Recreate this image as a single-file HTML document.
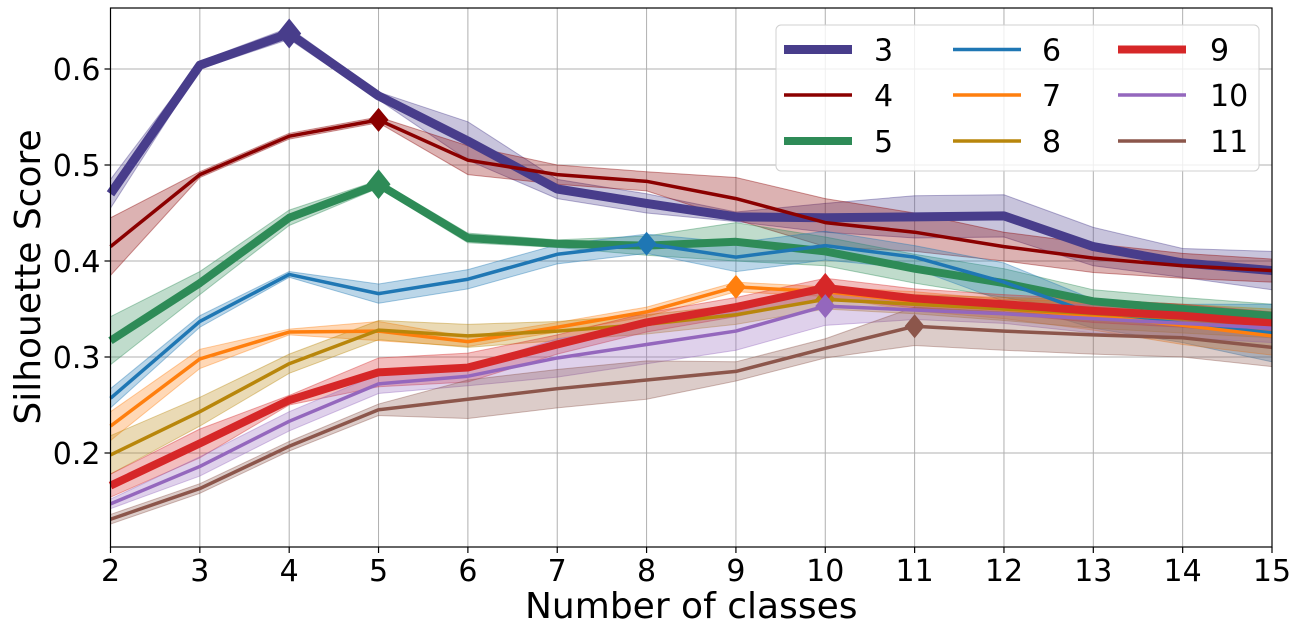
<!DOCTYPE html>
<html><head><meta charset="utf-8"><style>
html,body{margin:0;padding:0;background:#fff;}
svg{display:block;font-family:"DejaVu Sans","Liberation Sans",sans-serif;}
</style></head><body>
<svg id="chart" width="1300" height="627" viewBox="0 0 1300 627" xmlns="http://www.w3.org/2000/svg">
<g id="grid"></g>
<g id="bands"></g>
<g id="lines"></g>
<g id="axes"></g>
<g id="legend"></g>
</svg>
<script>
const xCats = [2,3,4,5,6,7,8,9,10,11,12,13,14,15];
const yTicks = [0.2,0.3,0.4,0.5,0.6];
const seriesNames = ["3","4","5","6","7","8","9","10","11"];
const s3 = [0.47,0.604,0.637,0.572,0.525,0.475,0.46,0.446,0.445,0.446,0.447,0.415,0.398,0.39];
const s4 = [0.415,0.49,0.53,0.547,0.505,0.49,0.483,0.465,0.44,0.43,0.415,0.403,0.395,0.39];
const s5 = [0.317,0.377,0.445,0.48,0.424,0.418,0.416,0.42,0.41,0.392,0.377,0.358,0.35,0.343];
const s6 = [0.257,0.337,0.386,0.366,0.381,0.407,0.418,0.404,0.416,0.404,0.378,0.345,0.335,0.325];
const s7 = [0.228,0.298,0.326,0.327,0.316,0.331,0.347,0.373,0.368,0.358,0.35,0.343,0.333,0.322];
const s8 = [0.198,0.243,0.293,0.328,0.322,0.327,0.334,0.344,0.36,0.355,0.35,0.345,0.34,0.335];
const s9 = [0.166,0.21,0.255,0.284,0.289,0.313,0.336,0.352,0.372,0.361,0.355,0.348,0.343,0.335];
const s10 = [0.147,0.186,0.233,0.272,0.28,0.299,0.313,0.327,0.353,0.349,0.345,0.34,0.335,0.33];
const s11 = [0.131,0.163,0.207,0.245,0.256,0.267,0.276,0.285,0.309,0.332,0.327,0.323,0.32,0.31];
const e3 = [0.015,0.004,0.006,0.004,0.02,0.01,0.01,0.005,0.015,0.022,0.022,0.02,0.015,0.02];
const e4 = [0.03,0.003,0.003,0.003,0.015,0.01,0.01,0.022,0.025,0.02,0.015,0.015,0.013,0.012];
const e5 = [0.025,0.012,0.008,0.004,0.005,0.004,0.01,0.02,0.015,0.015,0.015,0.012,0.012,0.012];
const e6 = [0.01,0.006,0.003,0.01,0.01,0.01,0.01,0.015,0.015,0.012,0.02,0.015,0.02,0.03];
const e7 = [0.015,0.01,0.003,0.01,0.005,0.005,0.005,0.005,0.005,0.01,0.01,0.015,0.02,0.02];
const e8 = [0.02,0.015,0.01,0.01,0.012,0.01,0.01,0.01,0.01,0.01,0.012,0.015,0.015,0.015];
const e9 = [0.012,0.015,0.005,0.015,0.015,0.01,0.01,0.01,0.01,0.01,0.01,0.012,0.012,0.012];
const e10 = [0.005,0.01,0.01,0.01,0.01,0.02,0.02,0.02,0.02,0.01,0.01,0.015,0.015,0.015];
const e11 = [0.005,0.005,0.005,0.006,0.02,0.02,0.02,0.01,0.01,0.02,0.02,0.02,0.02,0.02];
const allVals = [s3,s4,s5,s6,s7,s8,s9,s10,s11];
const allErr = [e3,e4,e5,e6,e7,e8,e9,e10,e11];
const colors = ["#483d8b","#8b0000","#2e8b57","#1f77b4","#ff7f0e","#b8860b","#d62728","#9467bd","#8c564b"];
const widths = [9,3.5,8,3.5,3.5,3.5,8,3.5,3.5];

const L=110.5,R=1272,T=8,B=547;
const X = v => L + (v-2)/(15-2)*(R-L);
const Y = v => 453 - (v-0.2)*960;
const NS="http://www.w3.org/2000/svg";
function mk(tag, attrs, parent){const e=document.createElementNS(NS,tag);for(const k in attrs)e.setAttribute(k,attrs[k]);parent.appendChild(e);return e;}
const grid=document.getElementById('grid'),bands=document.getElementById('bands'),lines=document.getElementById('lines'),axes=document.getElementById('axes'),legend=document.getElementById('legend');

xCats.forEach(c=>{const l=mk('line',{x1:X(c),x2:X(c),y1:T,y2:B,stroke:'#b0b0b0','stroke-width':1},grid);

});
yTicks.forEach(t=>{const l=mk('line',{x1:L,x2:R,y1:Y(t),y2:Y(t),stroke:'#b0b0b0','stroke-width':1},grid);

});

allVals.forEach((vals,i)=>{
  const err=allErr[i];
  let d='M'+vals.map((v,j)=>X(xCats[j])+','+Y(v+err[j])).join('L');
  for(let j=vals.length-1;j>=0;j--) d+='L'+X(xCats[j])+','+Y(vals[j]-err[j]);
  d+='Z';
  const p=mk('path',{d:d,fill:colors[i],'fill-opacity':0.3,stroke:colors[i],'stroke-opacity':0.4,'stroke-width':1},bands);
  
  
});
allVals.forEach((vals,i)=>{
  const pl=mk('polyline',{points:vals.map((v,j)=>X(xCats[j])+','+Y(v)).join(' '),fill:'none',stroke:colors[i],'stroke-width':widths[i],'stroke-linejoin':'round'},lines);
  
  
  let m=0;vals.forEach((v,j)=>{if(v>vals[m])m=j;});
  const cx=X(xCats[m]),cy=Y(vals[m]),r=widths[i]>5?15:12,w=widths[i]>5?12:10;
  const dm=mk('polygon',{points:`${cx},${cy-r} ${cx+w},${cy} ${cx},${cy+r} ${cx-w},${cy}`,fill:colors[i]},lines);
  
  
});

const frame=mk('rect',{x:L,y:T,width:R-L,height:B-T,fill:'none',stroke:'#000','stroke-width':1.2},axes);


xCats.forEach(c=>{
  mk('line',{x1:X(c),x2:X(c),y1:B,y2:B+6,stroke:'#000','stroke-width':1.2},axes);
  const t=mk('text',{x:X(c),y:B+34,'text-anchor':'middle','font-size':30,fill:'#000'},axes);t.textContent=c;
  
  
});
yTicks.forEach(v=>{
  mk('line',{x1:L-6,x2:L,y1:Y(v),y2:Y(v),stroke:'#000','stroke-width':1.2},axes);
  const t=mk('text',{x:L-10,y:Y(v)+11,'text-anchor':'end','font-size':30,fill:'#000'},axes);t.textContent=v.toFixed(1);
  
  
});
const xt=mk('text',{x:(L+R)/2,y:618,'text-anchor':'middle','font-size':36,fill:'#000'},axes);xt.textContent='Number of classes';


const yt=mk('text',{x:0,y:0,'text-anchor':'middle','font-size':36,fill:'#000',transform:'translate(40,277) rotate(-90)'},axes);yt.textContent='Silhouette Score';



const lb=mk('rect',{x:776,y:25,width:483,height:146,rx:5,fill:'#fff','fill-opacity':0.8,stroke:'#d0d0d0','stroke-width':1},legend);


const colX=[784,953,1118],labX=[874,1042,1210],rowY=[49.5,95,141];
seriesNames.forEach((n,i)=>{
  const c=Math.floor(i/3),r=i%3;
  const g=mk('g',{},legend);
  
  
  mk('line',{x1:colX[c],x2:colX[c]+68,y1:rowY[r],y2:rowY[r],stroke:colors[i],'stroke-width':widths[i]},g);
  const t=mk('text',{x:labX[c],y:rowY[r]+11,'font-size':30,fill:'#000'},g);t.textContent=n;
});
</script>
</body></html>
